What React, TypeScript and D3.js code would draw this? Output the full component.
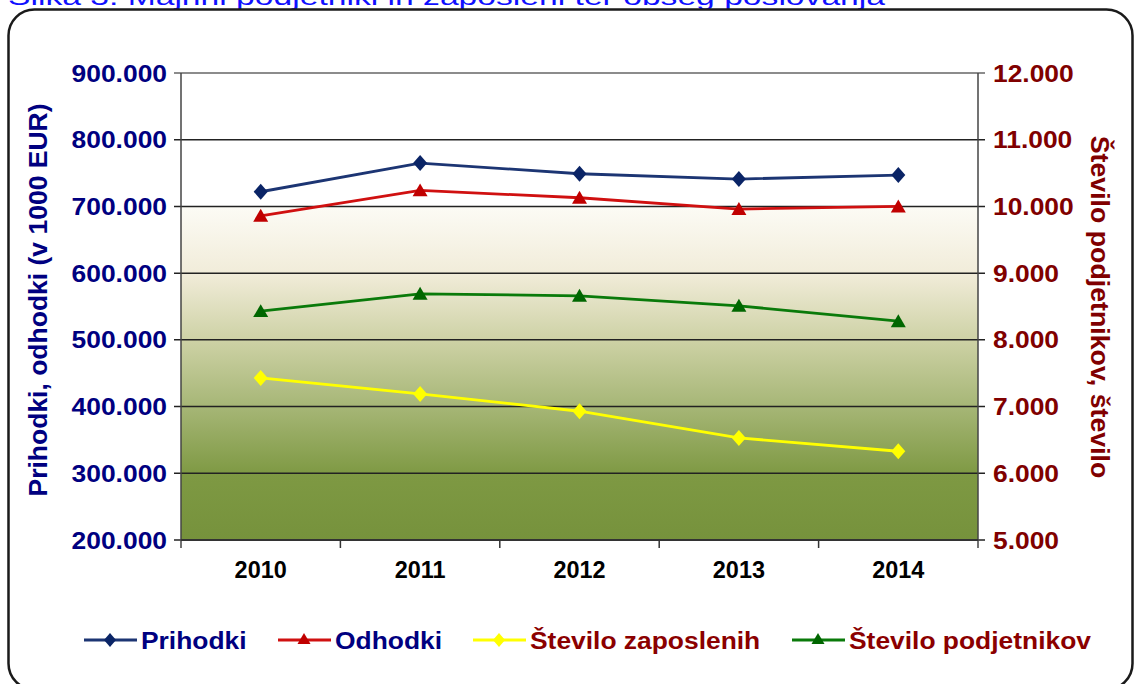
import * as d3 from 'd3'

const years = ['2010', '2011', '2012', '2013', '2014']
const prihodki = [722000, 765000, 749000, 741000, 747000]
const odhodki = [686000, 724000, 713000, 696000, 700000]
const zaposleni = [7430, 7190, 6930, 6530, 6330]
const podjetniki = [8430, 8690, 8660, 8510, 8280]
const leftTicks = [200000, 300000, 400000, 500000, 600000, 700000, 800000, 900000]
const rightTicks = [5000, 6000, 7000, 8000, 9000, 10000, 11000, 12000]

const FONT = '"Liberation Sans", Arial, sans-serif'
const si = d3.formatLocale({ decimal: ',', thousands: '.', grouping: [3], currency: ['', '€'] })
const fmt = si.format(',d')

type TProps = {
  x: number
  y: number
  size: number
  fill: string
  anchor?: 'start' | 'middle' | 'end'
  sx?: number
  rot?: number
  bold?: boolean
  children: string
}

// text a bit wider than the font gives, like in the original picture
const T = ({ x, y, size, fill, anchor = 'start', sx = 1.1, rot = 0, bold = true, children }: TProps) => (
  <text
    transform={`translate(${x},${y}) rotate(${rot}) scale(${sx},1)`}
    textAnchor={anchor}
    fontFamily={FONT}
    fontWeight={bold ? 'bold' : 'normal'}
    fontSize={size}
    fill={fill}
    dominantBaseline={rot ? 'central' : undefined}
  >
    {children}
  </text>
)

const diamond = (cx: number, cy: number, w = 7, h = 8) =>
  `M${cx},${cy - h}L${cx + w},${cy}L${cx},${cy + h}L${cx - w},${cy}Z`
const triangle = (cx: number, cy: number, w = 7.5, h = 7) =>
  `M${cx},${cy - h}L${cx + w},${cy + h * 0.85}L${cx - w},${cy + h * 0.85}Z`

export default function App() {
  const width = 1134
  const height = 684
  const margin = { top: 73, right: 156, bottom: 144, left: 181 }
  const innerW = width - margin.left - margin.right
  const innerH = height - margin.top - margin.bottom

  const x = d3.scaleBand<string>().domain(years).range([margin.left, margin.left + innerW])
  const cx = (d: string) => (x(d) as number) + x.bandwidth() / 2
  const yL = d3.scaleLinear().domain([200000, 900000]).range([margin.top + innerH, margin.top])
  const yR = d3.scaleLinear().domain([5000, 12000]).range([margin.top + innerH, margin.top])
  const x0 = margin.left
  const x1 = margin.left + innerW
  const yb = margin.top + innerH

  const lineL = d3.line<number>().x((_, i) => cx(years[i])).y((d) => yL(d))
  const lineR = d3.line<number>().x((_, i) => cx(years[i])).y((d) => yR(d))

  const series = [
    { name: 'Prihodki', data: prihodki, line: lineL, y: yL, color: '#1c3573', mark: '#0a2466', shape: 'd', text: '#000080' },
    { name: 'Odhodki', data: odhodki, line: lineL, y: yL, color: '#d01010', mark: '#c00000', shape: 't', text: '#000080' },
    { name: 'Število zaposlenih', data: zaposleni, line: lineR, y: yR, color: '#ffff00', mark: '#ffff00', shape: 'd', text: '#8b0000' },
    { name: 'Število podjetnikov', data: podjetniki, line: lineR, y: yR, color: '#0a7a0a', mark: '#006600', shape: 't', text: '#8b0000' },
  ]
  const legendX = [84, 278, 473, 792]

  return (
    <svg width={width} height={height} style={{ position: 'absolute', left: 0, top: 0, background: '#fff' }}>
      <defs>
        <linearGradient id="bg" x1="0" y1="0" x2="0" y2="1">
          <stop offset="0" stopColor="#ffffff" />
          <stop offset="0.285" stopColor="#ffffff" />
          <stop offset="0.287" stopColor="#fcfbf5" />
          <stop offset="0.43" stopColor="#f1ecd9" />
          <stop offset="0.57" stopColor="#ced2a6" />
          <stop offset="0.715" stopColor="#a6b676" />
          <stop offset="0.86" stopColor="#7e9943" />
          <stop offset="1" stopColor="#76923c" />
        </linearGradient>
      </defs>

      {/* caption, its top is cut off in the original */}
      <text
        x={8}
        y={5}
        fontFamily={FONT}
        fontSize={23}
        fill="#1010ff"
        textLength={877}
        lengthAdjust="spacingAndGlyphs"
      >
        Slika 3: Majhni podjetniki in zaposleni ter obseg poslovanja
      </text>

      {/* frame */}
      <rect x={8.5} y={9.5} width={1124} height={680} rx={26} fill="#fff" stroke="#1a1a1a" strokeWidth={2.5} />

      {/* plot area */}
      <rect x={x0} y={margin.top} width={innerW} height={innerH} fill="url(#bg)" />

      {leftTicks.map((t) => (
        <g key={t}>
          <line x1={x0 - 7} x2={x1 + 7} y1={yL(t)} y2={yL(t)} stroke={t === 900000 ? '#666' : '#222'} strokeWidth={1.5} />
          <T x={167} y={yL(t) + 8.5} size={24} fill="#000080" anchor="end">
            {fmt(t)}
          </T>
        </g>
      ))}
      {rightTicks.map((t) => (
        <T key={t} x={993} y={yR(t) + 8.5} size={24} fill="#800000">
          {fmt(t)}
        </T>
      ))}

      <line x1={x0} x2={x0} y1={margin.top} y2={yb + 8} stroke="#444" strokeWidth={1.5} />
      <line x1={x1} x2={x1} y1={margin.top} y2={yb + 8} stroke="#444" strokeWidth={1.5} />
      <line x1={x0} x2={x1} y1={yb} y2={yb} stroke="#333" strokeWidth={2} />
      {years.slice(1).map((d) => (
        <line key={d} x1={x(d)} x2={x(d)} y1={yb} y2={yb + 8} stroke="#333" strokeWidth={1.5} />
      ))}
      {years.map((d) => (
        <T key={d} x={cx(d)} y={578} size={23} fill="#000" anchor="middle" sx={1.02}>
          {d}
        </T>
      ))}

      {/* axis titles */}
      <T x={38} y={300} size={25} fill="#000080" anchor="middle" rot={-90} sx={1.06}>
        Prihodki, odhodki (v 1000 EUR)
      </T>
      <T x={1100} y={307} size={25} fill="#800000" anchor="middle" rot={90} sx={1.07}>
        Število podjetnikov, število
      </T>

      {/* series */}
      {series.map((s) => (
        <g key={s.name}>
          <path d={s.line(s.data) as string} fill="none" stroke={s.color} strokeWidth={2.8} />
          {s.data.map((v, i) => (
            <path
              key={i}
              d={s.shape === 'd' ? diamond(cx(years[i]), s.y(v)) : triangle(cx(years[i]), s.y(v))}
              fill={s.mark}
            />
          ))}
        </g>
      ))}

      {/* legend */}
      {series.map((s, i) => {
        const lx = legendX[i]
        return (
          <g key={s.name}>
            <line x1={lx} x2={lx + 53} y1={640} y2={640} stroke={s.color} strokeWidth={3} />
            <path d={s.shape === 'd' ? diamond(lx + 26, 640, 6, 7) : triangle(lx + 26, 639, 6.5, 6)} fill={s.mark} />
            <T x={lx + 57} y={649} size={24} fill={s.text}>
              {s.name}
            </T>
          </g>
        )
      })}
    </svg>
  )
}
